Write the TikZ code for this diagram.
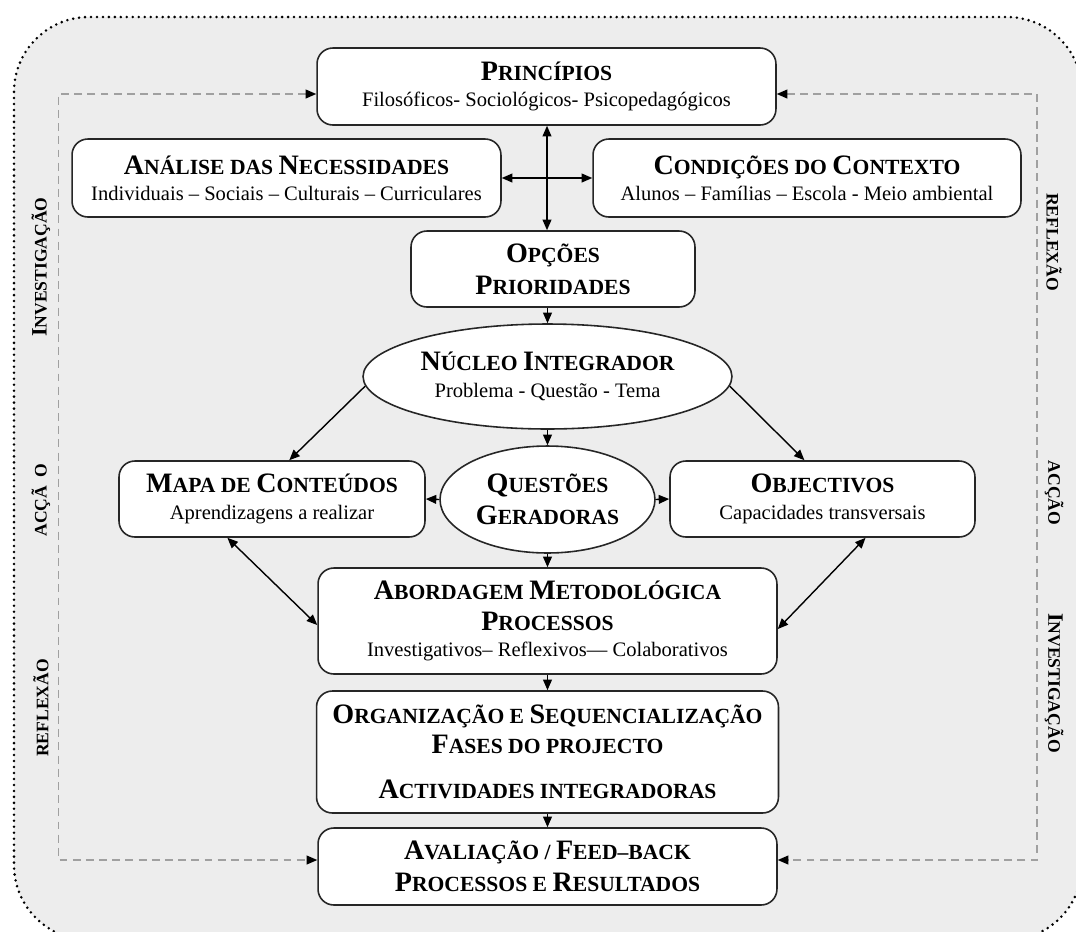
\documentclass[tikz,border=0pt]{standalone}
\usepackage{fontspec}
\setmainfont{Liberation Serif}
\usepackage{tikz}
\usetikzlibrary{arrows.meta,shapes.geometric}
\definecolor{plan_bg}{RGB}{237,237,237}
\definecolor{plan_dash}{RGB}{160,160,160}
\newcommand{\bigc}[1]{{\fontsize{16}{16}\selectfont #1}}
\newcommand{\ttl}[1]{{\bfseries\fontsize{12.3}{15}\selectfont #1}}
\newcommand{\subt}[1]{{\fontsize{11.7}{15}\selectfont #1}}
\newcommand{\sidec}[1]{{\fontsize{12.5}{12}\selectfont #1}}

\begin{document}
\begin{tikzpicture}[
      x=0.02cm, y=-0.02cm,
      box/.style={draw=black!85, fill=white, line width=0.9pt, rounded corners=9pt,
                  align=center, inner sep=0pt, font=\fontsize{12}{15}\selectfont},
      oval/.style={ellipse, draw=black!85, fill=white, line width=0.9pt,
                   align=center, inner sep=0pt, font=\fontsize{12}{15}\selectfont},
      arr/.style={-{Triangle[length=6pt,width=5pt]}, line width=0.8pt},
      dbl/.style={{Triangle[length=6pt,width=5pt]}-{Triangle[length=6pt,width=5pt]}, line width=0.8pt},
      fb/.style={{Triangle[length=6pt,width=5pt,color=black]}-{Triangle[length=6pt,width=5pt,color=black]},
                 plan_dash, dash pattern=on 4.5pt off 3pt, line width=0.8pt},
      side/.style={font=\bfseries\fontsize{10}{11}\selectfont},
    ]
    \useasboundingbox (0,0) rectangle (1076,931);

    % outer frame
    \draw[fill=plan_bg, line width=1.6pt, dash pattern=on 0pt off 3.4pt, line cap=round,
          rounded corners=1.5cm] (14,17) rectangle (1082,940);

    \node[box, minimum width=9.18cm, minimum height=1.54cm] (prin) at (546.5,86.5)
      {\ttl{\bigc{P}RINCÍPIOS}\\\subt{Filosóficos- Sociológicos- Psicopedagógicos}};
    \node[box, minimum width=8.58cm, minimum height=1.56cm] (ana) at (286.5,178)
      {\ttl{\bigc{A}NÁLISE DAS \bigc{N}ECESSIDADES}\\\subt{Individuais -- Sociais -- Culturais -- Curriculares}};
    \node[box, minimum width=8.56cm, minimum height=1.56cm] (cond) at (807,178)
      {\ttl{\bigc{C}ONDIÇÕES DO \bigc{C}ONTEXTO}\\\subt{Alunos -- Famílias -- Escola - Meio ambiental}};
    \node[box, minimum width=5.68cm, minimum height=1.52cm] (opc) at (553,269)
      {\ttl{\bigc{O}PÇÕES}\\[3pt]\ttl{\bigc{P}RIORIDADES}};
    \node[oval, minimum width=7.38cm, minimum height=2.1cm] (nuc) at (547.5,376.5)
      {\ttl{\bigc{N}ÚCLEO \bigc{I}NTEGRADOR}\\\subt{Problema - Questão - Tema}};
    \node[oval, minimum width=4.3cm, minimum height=2.14cm] (que) at (547.5,499.5)
      {\ttl{\bigc{Q}UESTÕES}\\[3pt]\ttl{\bigc{G}ERADORAS}};
    \node[box, minimum width=6.12cm, minimum height=1.52cm] (mapa) at (272,499)
      {\ttl{\bigc{M}APA DE \bigc{C}ONTEÚDOS}\\\subt{Aprendizagens a realizar}};
    \node[box, minimum width=6.1cm, minimum height=1.52cm] (obj) at (822.5,499)
      {\ttl{\bigc{O}BJECTIVOS}\\\subt{Capacidades transversais}};
    \node[box, minimum width=9.18cm, minimum height=2.12cm] (abd) at (547.5,621)
      {\ttl{\bigc{A}BORDAGEM \bigc{M}ETODOLÓGICA}\\[2.5pt]\ttl{\bigc{P}ROCESSOS}\\
       \subt{Investigativos-- Reflexivos--- Colaborativos}};
    \node[box, minimum width=9.24cm, minimum height=2.44cm] (org) at (547.5,752)
      {\ttl{\bigc{O}RGANIZAÇÃO E \bigc{S}EQUENCIALIZAÇÃO}\\[2pt]\ttl{\bigc{F}ASES DO PROJECTO}\\[11pt]
       \ttl{\bigc{A}CTIVIDADES INTEGRADORAS}};
    \node[box, minimum width=9.18cm, minimum height=1.54cm] (aval) at (547.5,866.5)
      {\ttl{\bigc{A}VALIAÇÃO / \bigc{F}EED--BACK}\\[3.5pt]\ttl{\bigc{P}ROCESSOS E \bigc{R}ESULTADOS}};

    \draw[dbl] (prin.south -| 547,0) -- (547,0 |- opc.north);
    \draw[dbl] (ana.east) -- (cond.west);
    \draw[arr] (nuc.north |- opc.south) -- (nuc.north);
    \draw[arr] (nuc.south) -- (que.north);
    \draw[arr] (nuc.183) -- (mapa.66);
    \draw[arr] (nuc.357) -- (obj.115);
    \draw[arr] (que.west) -- (mapa.east);
    \draw[arr] (que.east) -- (obj.west);
    \draw[arr] (que.south) -- (abd.north);
    \draw[dbl] (mapa.221) -- (abd.181.5);
    \draw[dbl] (obj.318) -- (abd.358.5);
    \draw[arr] (abd.south) -- (org.north);
    \draw[arr] (org.south) -- (aval.north);

    % feedback loops
    \coordinate (ltop) at (58.5,94);
    \coordinate (lbot) at (58.5,860);
    \coordinate (rtop) at (1037,94);
    \coordinate (rbot) at (1037,860);
    \draw[fb] (ltop -| prin.west) -- (ltop) -- (lbot) -- (lbot -| aval.west);
    \draw[fb] (rtop -| prin.east) -- (rtop) -- (rbot) -- (rbot -| aval.east);

    % side labels
    \node[side, rotate=90] (linv) at (41,267) {\sidec{I}NVESTIGAÇÃO};
    \node[side, rotate=90] (lacc) at (41,500) {ACÇÃ\enspace O};
    \node[side, rotate=90] (lref) at (41,708) {REFLEXÃO};
    \node[side, rotate=-90] (rref) at (1054,242) {REFLEXÃO};
    \node[side, rotate=-90] (racc) at (1054,493) {ACÇÃO};
    \node[side, rotate=-90] (rinv) at (1054,683) {\sidec{I}NVESTIGAÇÃO};
  \end{tikzpicture}
\end{document}
